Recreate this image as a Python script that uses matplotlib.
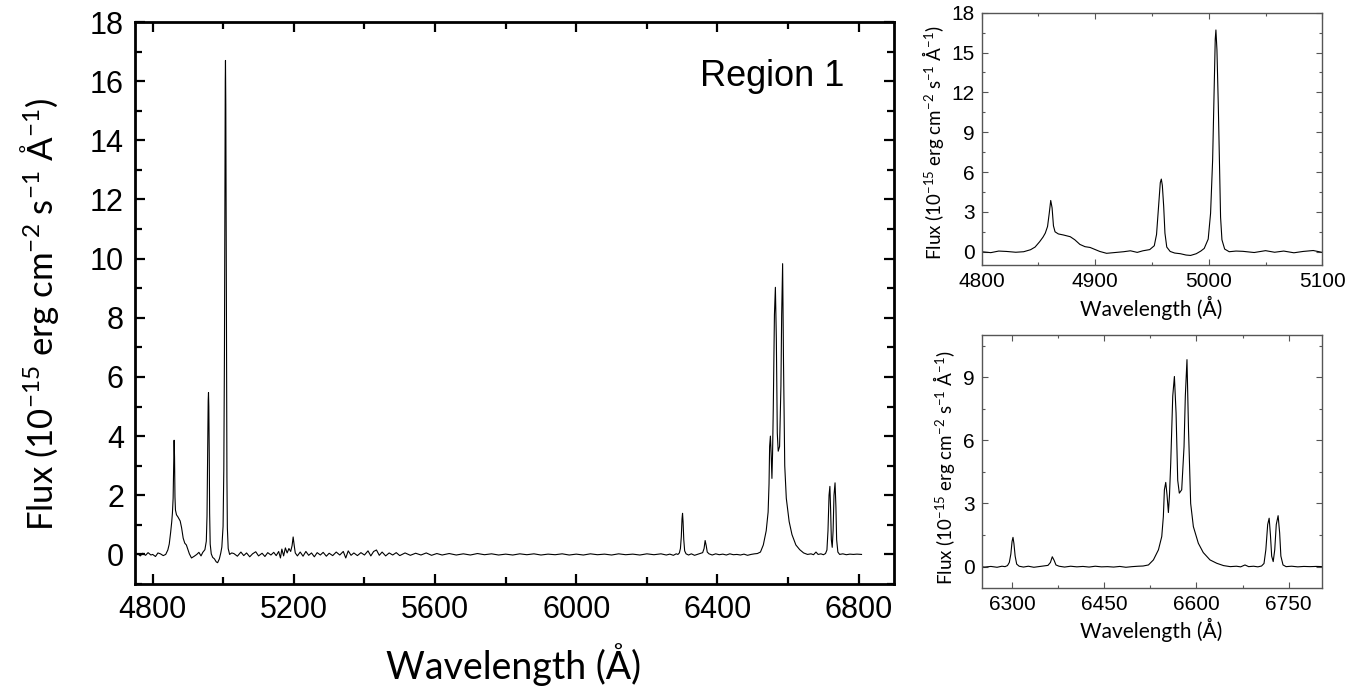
import numpy as np
import matplotlib
matplotlib.use("Agg")
import matplotlib.pyplot as plt
from matplotlib.ticker import MultipleLocator

plt.rcParams['font.family'] = ['Liberation Sans', 'DejaVu Sans']
plt.rcParams['mathtext.fontset'] = 'custom'
plt.rcParams['mathtext.rm'] = 'Lato'
plt.rcParams['mathtext.default'] = 'regular'

# ---- spectrum (wavelength in Angstrom, flux in 1e-15 erg/cm2/s/A)
wave_blue = [4758, 4765, 4772, 4780, 4787, 4795, 4800, 4808, 4815, 4822, 4830, 4837, 4843,
             4847, 4851, 4854, 4856, 4858, 4859.5, 4860.8, 4862, 4863.2, 4864.6, 4867.5, 4872,
             4878, 4882, 4886.5, 4891, 4895.5, 4900, 4904, 4910, 4918, 4925, 4931, 4937, 4942,
             4948, 4952, 4954, 4955.8, 4957.3, 4958.2, 4959.1, 4960.3, 4961.4, 4963, 4966, 4970,
             4975, 4980, 4984, 4989, 4993, 4996, 4999.5, 5001.6, 5003.4, 5004.6, 5005.7, 5006.3,
             5007.2, 5008.4, 5009.6, 5010.4, 5011.6, 5014, 5018, 5024]
flux_blue = [0.02, -0.05, 0.04, -0.03, 0.06, -0.02, 0.0, -0.07, 0.05, 0.02, -0.04, 0.0, 0.15,
             0.35, 0.75, 1.1, 1.4, 1.9, 2.9, 3.86, 3.3, 1.95, 1.5, 1.34, 1.26,
             1.13, 0.9, 0.55, 0.38, 0.32, 0.16, 0.02, -0.12, -0.06, 0.0, 0.07, -0.05, 0.07,
             0.16, 0.45, 1.3, 3.4, 5.2, 5.47, 5.0, 3.4, 1.4, 0.35, 0.02, -0.1,
             -0.15, -0.25, -0.28, -0.15, 0.05, 0.25, 0.95, 2.9, 6.9, 11.5, 16.0, 16.7,
             15.2, 11.0, 5.9, 2.6, 0.9, 0.2, 0.0, 0.05]

wave_mid = [5030, 5040, 5050, 5058, 5066, 5075, 5083, 5092, 5100, 5110, 5118, 5126, 5135, 5143,
            5150, 5157, 5162, 5166, 5171, 5176, 5181, 5186, 5191, 5195, 5198, 5201, 5204, 5210,
            5218, 5226, 5234, 5242, 5250, 5258, 5266, 5275, 5283, 5292, 5300, 5310, 5320, 5330,
            5340, 5347, 5354, 5362, 5370, 5380, 5390, 5400, 5410, 5418, 5426, 5434, 5442, 5450,
            5460, 5470, 5480, 5490, 5500, 5515, 5530, 5545, 5560, 5575, 5590, 5605, 5620, 5640,
            5660, 5680, 5700, 5720, 5740, 5760, 5780, 5800, 5820, 5840, 5860, 5880, 5900, 5920,
            5940, 5960, 5980, 6000, 6020, 6040, 6060, 6080, 6100, 6120, 6140, 6160, 6180, 6200,
            6220, 6240, 6255, 6265, 6275, 6283]
flux_mid = [0.03, -0.06, 0.08, -0.04, 0.05, -0.08, 0.02, 0.09, -0.05, 0.04, -0.07, 0.06, -0.02, 0.07,
            -0.04, 0.1, -0.12, 0.18, -0.05, 0.22, 0.05, 0.2, 0.1, 0.3, 0.59, 0.3, 0.05, -0.05,
            0.08, -0.06, 0.1, -0.03, 0.05, -0.08, 0.06, -0.02, 0.07, -0.06, 0.04, -0.04, 0.08, -0.02,
            0.1, -0.12, 0.12, -0.03, 0.05, -0.04, 0.06, -0.02, 0.12, -0.05, 0.1, 0.15, -0.03, 0.08,
            -0.05, 0.05, -0.02, 0.06, -0.04, 0.05, -0.03, 0.04, -0.02, 0.05, -0.03, 0.03, -0.02, 0.03,
            -0.02, 0.02, -0.02, 0.03, -0.01, 0.02, -0.02, 0.01, -0.02, 0.02, -0.01, 0.02, -0.02, 0.01,
            -0.01, 0.02, -0.02, 0.01, -0.02, 0.02, -0.01, 0.01, -0.02, 0.02, -0.01, 0.01, -0.02, 0.02,
            -0.01, 0.02, -0.02, 0.01, -0.03, 0.02]

wave_red = [6288, 6292, 6295, 6297.5, 6299.5, 6301, 6302.5, 6304.5, 6307, 6311, 6318, 6326, 6335,
            6343, 6351, 6358, 6362, 6365, 6368, 6371, 6376, 6385, 6395, 6405, 6415, 6425, 6435,
            6445, 6455, 6465, 6475, 6485, 6495, 6505, 6513, 6521.7, 6529.8, 6538, 6543.4, 6546,
            6547.7, 6549.9, 6552, 6554.2, 6556, 6558, 6561.3, 6564, 6566.7, 6569.4, 6572, 6575.9,
            6579.7, 6581.8, 6584.5, 6587, 6590.5, 6594.9, 6603, 6611, 6622, 6633, 6644, 6655,
            6665, 6672, 6679, 6685, 6693, 6700, 6706, 6710, 6713, 6716, 6718.4, 6720.5, 6722.5,
            6725, 6727.5, 6730, 6733, 6735.5, 6737.5, 6741, 6746, 6755, 6765, 6775, 6785, 6795, 6808]
flux_red = [0.0, 0.05, 0.2, 0.6, 1.2, 1.39, 1.1, 0.5, 0.12, 0.02, -0.02, 0.02, -0.03,
            0.0, 0.03, 0.06, 0.2, 0.47, 0.3, 0.08, 0.02, -0.02, 0.02, -0.01, 0.01, -0.02, 0.02,
            -0.01, 0.0, -0.02, 0.01, -0.03, 0.0, 0.02, 0.03, 0.08, 0.32, 0.8, 1.43, 2.38,
            3.65, 4.0, 3.4, 2.57, 3.4, 4.9, 8.1, 9.03, 7.3, 4.1, 3.49, 3.65,
            5.7, 8.1, 9.83, 6.5, 3.0, 1.9, 1.11, 0.67, 0.32, 0.16, 0.05, 0.0,
            0.02, -0.01, 0.08, 0.0, 0.02, -0.01, 0.03, 0.15, 0.8, 2.0, 2.3, 1.5, 0.5,
            0.24, 0.8, 2.0, 2.42, 1.6, 0.5, 0.08, 0.0, 0.02, -0.01, 0.01, 0.0, 0.01, 0.0]

wave = np.array(wave_blue + wave_mid + wave_red)
flux = np.array(flux_blue + flux_mid + flux_red)

main_xticks = [4800, 5200, 5600, 6000, 6400, 6800]
main_yticks = [0, 2, 4, 6, 8, 10, 12, 14, 16, 18]
top_xticks = [4800, 4900, 5000, 5100]
top_yticks = [0, 3, 6, 9, 12, 15, 18]
bot_xticks = [6300, 6450, 6600, 6750]
bot_yticks = [0, 3, 6, 9]

W, H = 1365, 698
fig = plt.figure(figsize=(W / 100, H / 100), dpi=100)

def frac(l, t, r, b):
    return [l / W, 1 - b / H, (r - l) / W, (b - t) / H]

label_font = ['Lato', 'DejaVu Sans']

# ---------------- main panel
ax = fig.add_axes(frac(135, 22, 894, 584))
ax.plot(wave, flux, color='black', lw=0.8)
ax.set_xlim(4750, 6900)
ax.set_ylim(-1, 18)
ax.set_xticks(main_xticks)
ax.set_yticks(main_yticks)
ax.xaxis.set_minor_locator(MultipleLocator(200))
ax.yaxis.set_minor_locator(MultipleLocator(1))
ax.tick_params(which='both', direction='in', top=True, right=True, width=1.6, labelsize=22, pad=8)
ax.tick_params(which='major', length=7.5)
ax.tick_params(which='minor', length=5)
for s in ax.spines.values():
    s.set_linewidth(2.0)
fig.text(514 / W, 1 - 665 / H, 'Wavelength (Å)', ha='center', va='center', fontsize=27, family=label_font)
fig.text(40 / W, 1 - 315 / H, 'Flux (10$^{-15}$ erg cm$^{-2}$ s$^{-1}$ Å$^{-1}$)', ha='center', va='center',
         rotation=90, fontsize=25, family=label_font)
fig.text(700 / W, 1 - 86 / H, 'Region 1', ha='left', va='baseline', fontsize=26)

def small(axs, xl, yl, xt, yt, xminor, yminor, ylab_x, ylab_y, xlab_y):
    axs.plot(wave, flux, color='black', lw=0.8)
    axs.set_xlim(*xl)
    axs.set_ylim(*yl)
    axs.set_xticks(xt)
    axs.set_yticks(yt)
    axs.xaxis.set_minor_locator(MultipleLocator(xminor))
    axs.yaxis.set_minor_locator(MultipleLocator(yminor))
    axs.tick_params(which='both', direction='in', top=True, right=True, width=0.8, color='#555555',
                    labelsize=15, pad=5)
    axs.tick_params(which='major', length=4)
    axs.tick_params(which='minor', length=2.5)
    for s in axs.spines.values():
        s.set_linewidth(1.0)
        s.set_color('#555555')
    fig.text(1151 / W, 1 - xlab_y / H, 'Wavelength (Å)', ha='center', va='center', fontsize=15, family=label_font)
    fig.text(ylab_x / W, 1 - ylab_y / H, 'Flux (10$^{-15}$ erg cm$^{-2}$ s$^{-1}$ Å$^{-1}$)', ha='center',
             va='center', rotation=90, fontsize=13.5, family=label_font)

ax1 = fig.add_axes(frac(981.7, 12.7, 1322.3, 265))
small(ax1, (4800, 5100), (-1, 18), top_xticks, top_yticks, 50, 1.5, 933, 143, 308)

ax2 = fig.add_axes(frac(981.7, 335, 1322.3, 587.7))
small(ax2, (6250, 6805), (-1, 11), bot_xticks, bot_yticks, 75, 1.5, 944, 468, 630)

fig.savefig('out.png', dpi=100)
